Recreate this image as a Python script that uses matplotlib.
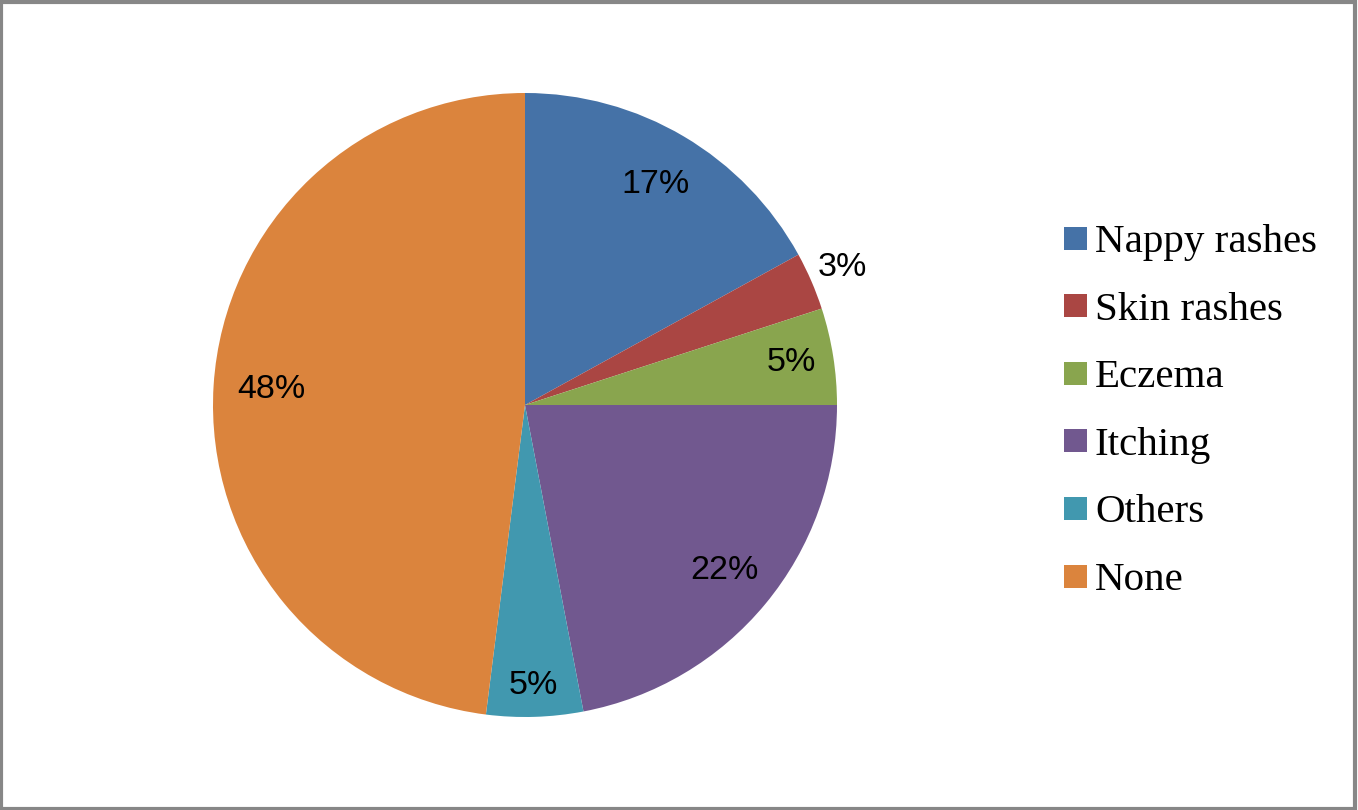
import matplotlib
matplotlib.use("Agg")
import matplotlib.pyplot as plt
from matplotlib.patches import Rectangle
import numpy as np

categories = ["Nappy rashes", "Skin rashes", "Eczema", "Itching", "Others", "None"]
values = [17, 3, 5, 22, 5, 48]
pct_labels = ["17%", "3%", "5%", "22%", "5%", "48%"]
colors = ["#4572A7", "#AA4643", "#89A54E", "#71588F", "#4198AF", "#DB843D"]
label_radius = [0.82, 1.11, 0.865, 0.83, 0.9, 0.816]

W, H = 1358, 810
fig = plt.figure(figsize=(W / 100, H / 100), dpi=100)
fig.patch.set_facecolor("white")

cx, cy, r = 525, 405, 312
ax = fig.add_axes([(cx - r) / W, (H - cy - r) / H, 2 * r / W, 2 * r / H])
wedges, _ = ax.pie(values, colors=colors, startangle=90, counterclock=False,
                   radius=1.0, wedgeprops=dict(linewidth=0))
ax.set_xlim(-1, 1)
ax.set_ylim(-1, 1)
ax.set_aspect("equal")
ax.axis("off")

for w, lab, rr in zip(wedges, pct_labels, label_radius):
    ang = np.deg2rad((w.theta1 + w.theta2) / 2)
    ax.text(rr * np.cos(ang), rr * np.sin(ang), lab, ha="center", va="center",
            fontsize=24.5, family="Liberation Sans", color="#000000")

# legend
x0 = 1064
y_first = 238
dy = 67.6
sq = 23
for i, (cat, col) in enumerate(zip(categories, colors)):
    yc = y_first + i * dy
    fig.add_artist(Rectangle(((x0) / W, (H - yc - sq / 2) / H), sq / W, sq / H,
                             transform=fig.transFigure, facecolor=col, edgecolor="none"))
    fig.text((x0 + 31) / W, (H - yc) / H, cat, ha="left", va="center_baseline",
             fontsize=29.5, family="Liberation Serif", color="#000000")

# border
fig.add_artist(Rectangle((0.001, 0.001), 0.997, 0.997, transform=fig.transFigure,
                         fill=False, edgecolor="#878787", linewidth=3))

fig.savefig("out.png", dpi=100, facecolor="white")
